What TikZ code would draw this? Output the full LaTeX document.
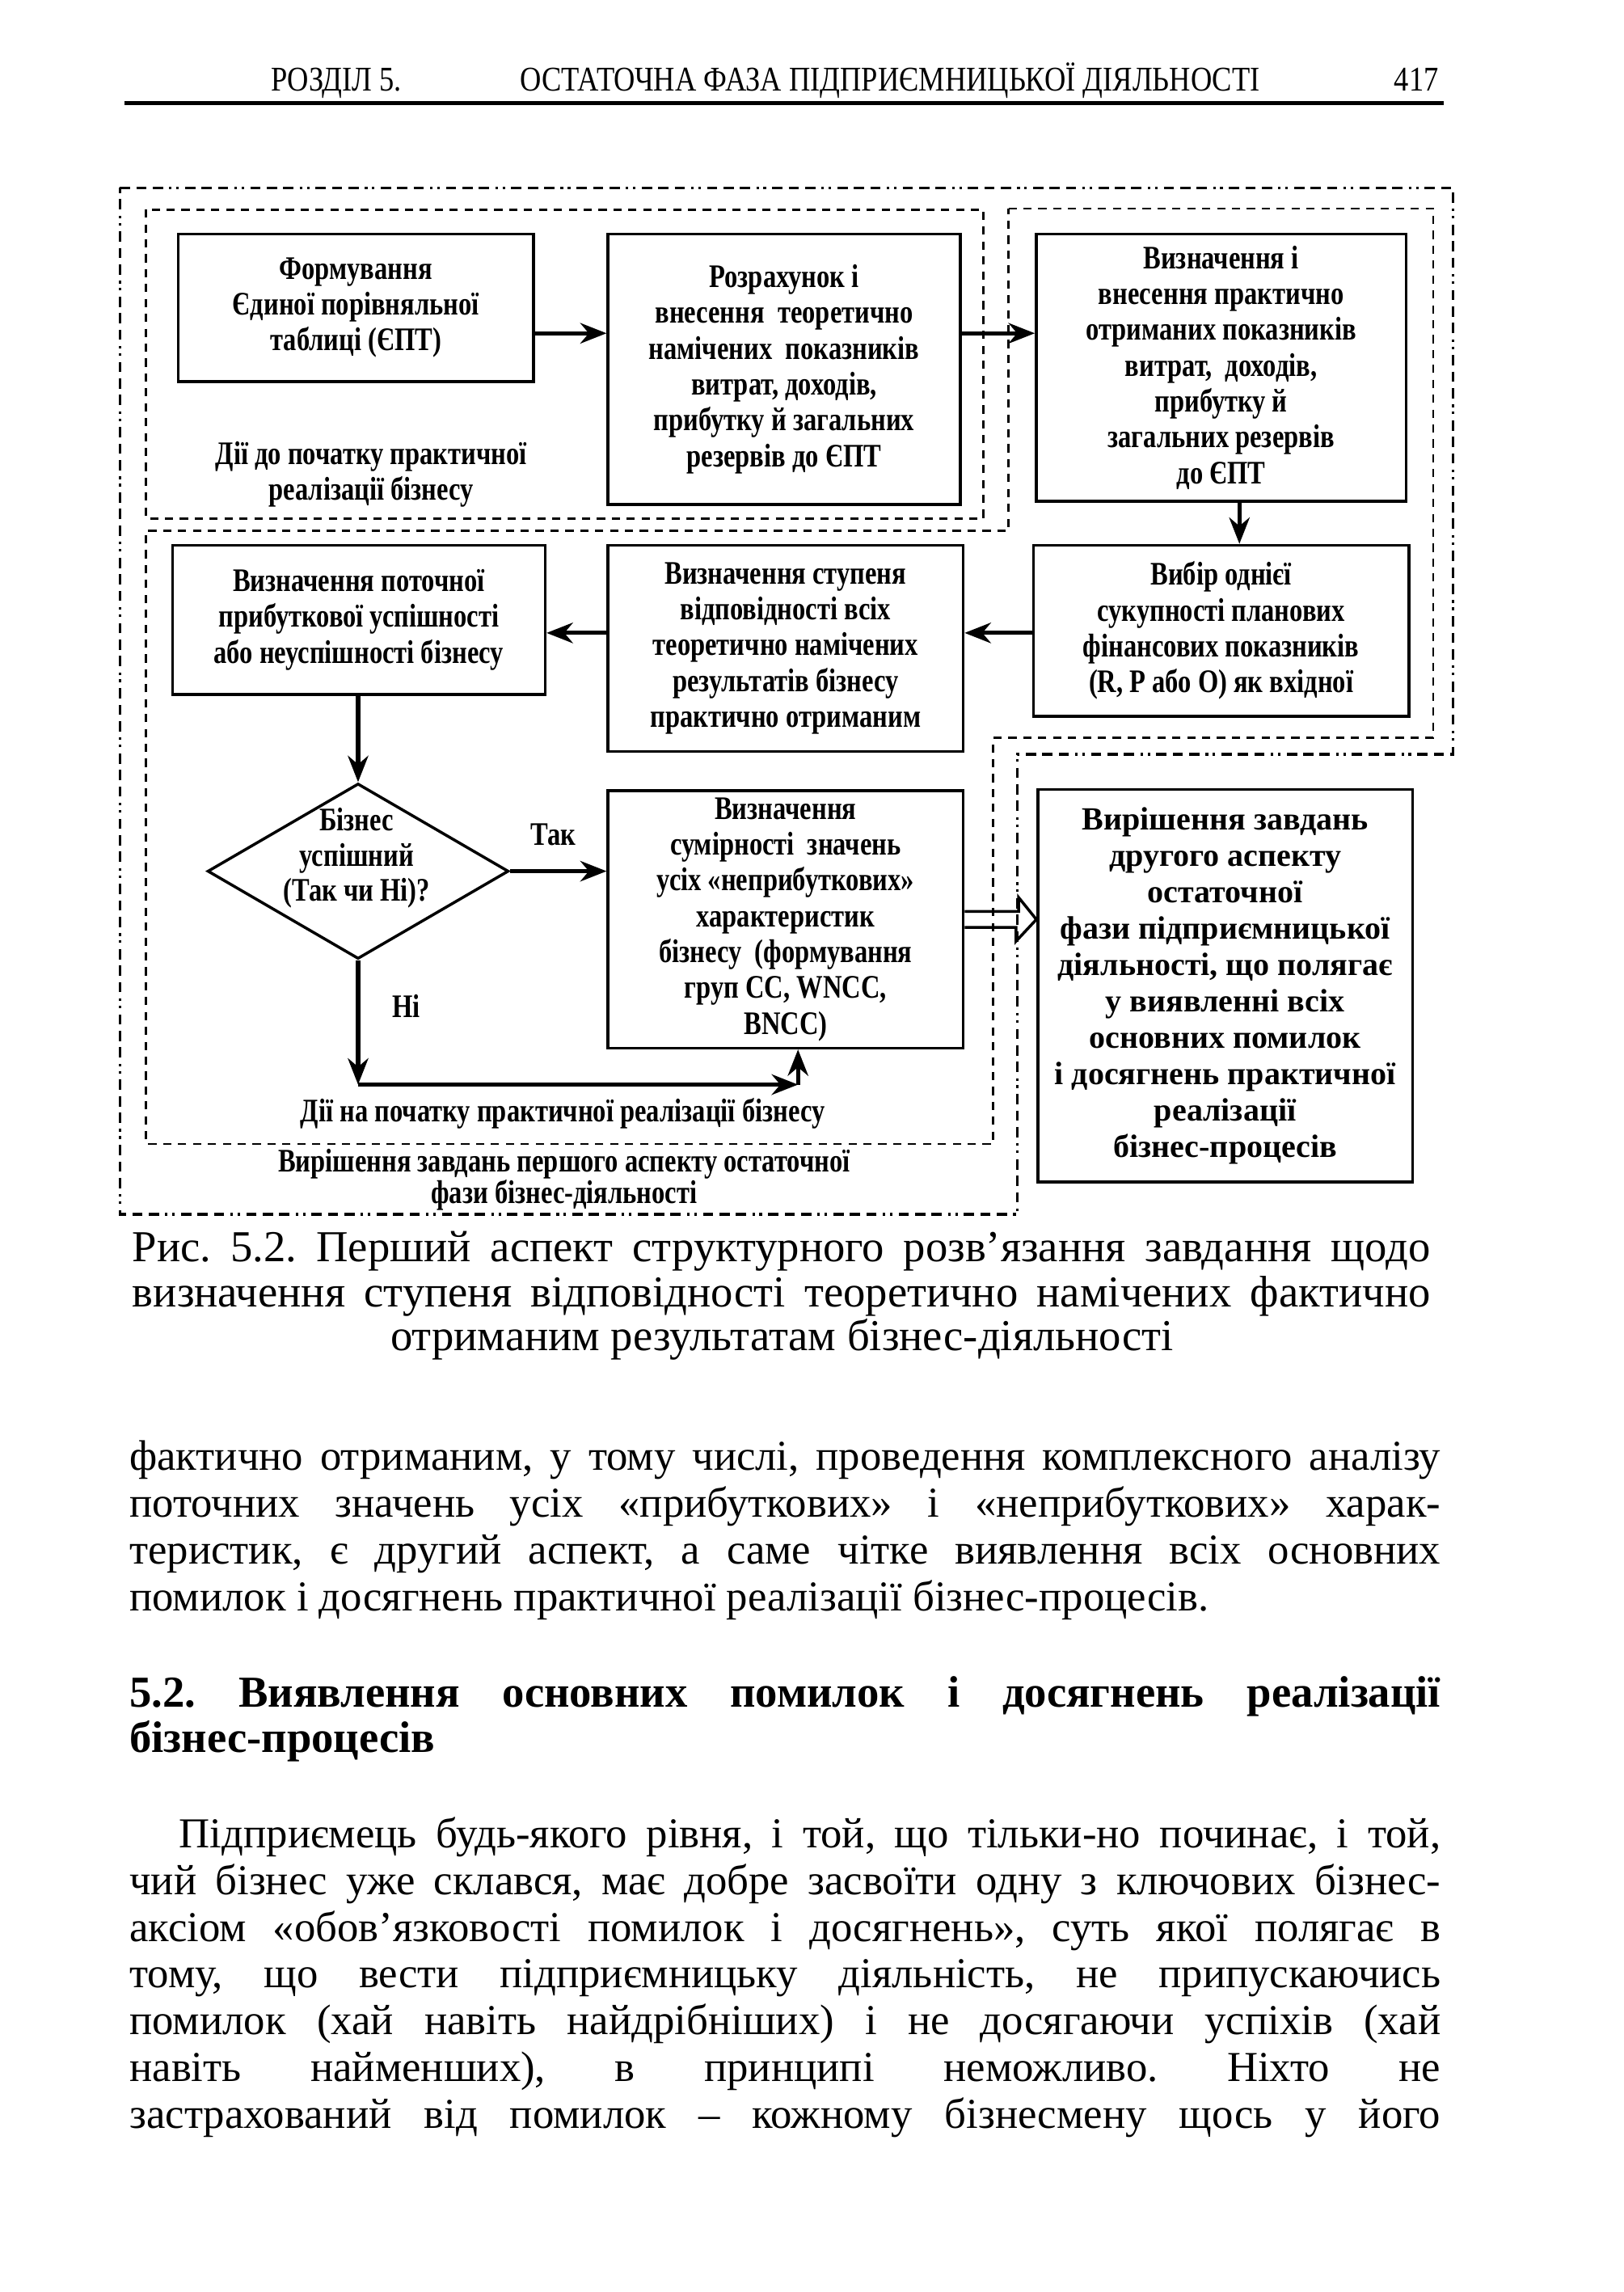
\documentclass[tikz,border=0pt]{standalone}
\usepackage{fontspec}
\setmainfont{Liberation Serif}
\newfontfamily\condfont[FakeStretch=0.8]{Liberation Serif}
\newfontfamily\headfont[FakeStretch=0.85]{Liberation Serif}
\usetikzlibrary{arrows.meta, positioning, calc, shapes.geometric}
\frenchspacing
\newcommand{\jline}[1]{\makebox[8.97cm][s]{#1}}
\tikzset{
    block/.style={draw, line width=0.55pt, align=center, inner sep=1pt,
        font=\condfont\bfseries\fontsize{6.4}{6.97}\selectfont},
    decision/.style={draw, diamond, line width=0.55pt, inner sep=0pt},
    flow/.style={-{Stealth[length=1.8mm, width=1.4mm]}, line width=0.8pt},
    frame/.style={line width=0.45pt, dash pattern=on 1.6pt off 1.3pt},
    outframe/.style={line width=0.5pt, dash pattern=on 2pt off 1.2pt on 2pt off 1.2pt
        on 2pt off 1.2pt on 0.5pt off 0.9pt on 0.5pt off 1.2pt},
    tag/.style={font=\condfont\bfseries\fontsize{6.4}{6.9}\selectfont, align=center,
        inner sep=0pt},
    bodyline/.style={anchor=base west, inner sep=0pt, font=\fontsize{8.3}{10}\selectfont},
    capline/.style={anchor=base west, inner sep=0pt, font=\fontsize{8.6}{10}\selectfont},
}

\begin{document}
\begin{tikzpicture}
    \fill[white] (0,0) rectangle (11.11,-15.68);
    \useasboundingbox (0,0) rectangle (11.11,-15.68);

    % Колонтитул
    \node[anchor=base, inner sep=0pt, font=\headfont\fontsize{6.75}{8}\selectfont] (sec) at (2.30,-0.62) {РОЗДІЛ 5.};
    \node[anchor=base, inner sep=0pt, font=\headfont\fontsize{6.75}{8}\selectfont] (title) at (6.09,-0.62) {ОСТАТОЧНА ФАЗА ПІДПРИЄМНИЦЬКОЇ ДІЯЛЬНОСТІ};
    \node[anchor=base east, inner sep=0pt, font=\headfont\fontsize{6.75}{8}\selectfont] (page) at (9.85,-0.62) {417};
    \draw[line width=0.9pt] (0.85,-0.705) -- (9.88,-0.705);

    % Рамки
    \draw[outframe] (0.82,-1.284) -- (9.94,-1.284) -- (9.94,-5.16) -- (6.96,-5.16)
        -- (6.96,-8.307) -- (0.82,-8.307) -- cycle;
    \draw[frame] (1.00,-1.433) rectangle (6.73,-3.547);
    \draw[frame] (6.90,-1.427) -- (9.806,-1.427) -- (9.806,-5.047) -- (6.796,-5.047)
        -- (6.796,-7.826) -- (1.00,-7.826) -- (1.00,-3.63) -- (6.90,-3.63) -- cycle;

    % Блоки
    \node[block, minimum width=2.43cm, minimum height=1.01cm] (B1) at (2.435,-2.105)
        {Формування\\ Єдиної порівняльної\\ таблиці (ЄПТ)};
    \node[block, minimum width=2.41cm, minimum height=1.85cm] (B2) at (5.365,-2.525)
        {Розрахунок і\\ внесення \ теоретично\\ намічених \ показників\\ витрат, доходів,\\
        прибутку й загальних\\ резервів до ЄПТ};
    \node[block, minimum width=2.53cm, minimum height=1.83cm] (B3) at (8.355,-2.515)
        {Визначення і\\ внесення практично\\ отриманих показників\\ витрат, \ доходів,\\
        прибутку й\\ загальних резервів\\ до ЄПТ};
    \node[block, minimum width=2.57cm, minimum height=1.17cm] (B4) at (8.355,-4.315)
        {Вибір однієї\\ сукупності планових\\ фінансових показників\\ (R, P або O) як вхідної};
    \node[block, minimum width=2.43cm, minimum height=1.41cm] (B5) at (5.375,-4.435)
        {Визначення ступеня\\ відповідності всіх\\ теоретично намічених\\ результатів бізнесу\\
        практично отриманим};
    \node[block, minimum width=2.55cm, minimum height=1.02cm] (B6) at (2.455,-4.24)
        {Визначення поточної\\ прибуткової успішності\\ або неуспішності бізнесу};
    \node[decision, minimum width=2.06cm, minimum height=1.20cm] (D) at (2.45,-5.96) {};
    \node[tag] (Dtxt) at (2.44,-5.87) {Бізнес\\ успішний\\ (Так чи Ні)?};
    \node[block, minimum width=2.43cm, minimum height=1.76cm] (B7) at (5.375,-6.29)
        {Визначення\\ сумірності \ значень\\ усіх «неприбуткових»\\ характеристик\\
        бізнесу \ (формування\\ груп CC, WNCC,\\ BNCC)};
    \node[block, minimum width=2.565cm, minimum height=2.685cm,
        font=\bfseries\fontsize{6.3}{7.08}\selectfont] (B8) at (8.383,-6.743)
        {Вирішення завдань\\ другого аспекту\\ остаточної\\ фази підприємницької\\
        діяльності, що полягає\\ у виявленні всіх\\ основних помилок\\
        і досягнень практичної\\ реалізації\\ бізнес-процесів};

    % Підписи рамок
    \node[tag] (before) at (2.54,-3.245) {Дії до початку практичної\\ реалізації бізнесу};
    \node[tag] (start) at (3.85,-7.62) {Дії на початку практичної реалізації бізнесу};
    \node[tag, font=\condfont\bfseries\fontsize{6.4}{6.2}\selectfont] (first) at (3.86,-8.07)
        {Вирішення завдань першого аспекту остаточної\\ фази бізнес-діяльності};

    % Стрілки
    \coordinate (rowA) at (0,-2.28);
    \coordinate (colA) at (8.48,0);
    \coordinate (rowB) at (0,-4.33);
    \coordinate (turnA) at (2.45,-7.42);
    \coordinate (turnB) at (5.46,-7.42);
    \draw[flow] (B1.east |- rowA) -- (B2.west |- rowA);
    \draw[flow] (B2.east |- rowA) -- (B3.west |- rowA);
    \draw[flow] (B3.south -| colA) -- (B4.north -| colA);
    \draw[flow] (B4.west |- rowB) -- (B5.east |- rowB);
    \draw[flow] (B5.west |- rowB) -- (B6.east |- rowB);
    \draw[flow] (B6.south -| D.north) -- (D.north);
    \draw[flow] (D.east) -- node[tag, above=0.16cm, pos=0.45] (yes) {Так} (B7.west |- D.east);
    \draw[flow] (D.south) -- node[tag, right=0.22cm, pos=0.37] (no) {Ні} (turnA);
    \draw[flow] (turnA) -- (turnB);
    \draw[flow] (turnB) -- (B7.south -| turnB);
    \draw[line width=0.55pt] ($(B7.east)+(0,0.055)$) -- ++(0.37,0) -- ++(0,0.095)
        -- (B8.west |- B7.east) -- ++(-0.14,-0.15) -- ++(0,0.095) -- ($(B7.east)+(0,-0.055)$);

    % Підпис рисунка
    \node[capline] (cap1) at (0.90,-8.63) {\makebox[8.88cm][s]{Рис. 5.2. Перший аспект структурного розв'язання завдання щодо}};
    \node[capline] (cap2) at (0.90,-8.94) {\makebox[8.88cm][s]{визначення ступеня відповідності теоретично намічених фактично}};
    \node[capline, anchor=base] (cap3) at (5.35,-9.24) {отриманим результатам бізнес-діяльності};

    % Текст сторінки
    \node[bodyline] (p1) at (0.88,-10.06) {\jline{фактично отриманим, у тому числі, проведення комплексного аналізу}};
    \node[bodyline] (p2) at (0.88,-10.38) {\jline{поточних значень усіх «прибуткових» і «неприбуткових» харак-}};
    \node[bodyline] (p3) at (0.88,-10.70) {\jline{теристик, є другий аспект, а саме чітке виявлення всіх основних}};
    \node[bodyline] (p4) at (0.88,-11.02) {помилок і досягнень практичної реалізації бізнес-процесів.};

    \node[bodyline, font=\bfseries\fontsize{8.6}{10}\selectfont] (h1) at (0.88,-11.68) {\jline{5.2. Виявлення основних помилок і досягнень реалізації}};
    \node[bodyline, font=\bfseries\fontsize{8.6}{10}\selectfont] (h2) at (0.88,-11.99) {бізнес-процесів};

    \node[bodyline] (q1) at (1.22,-12.64) {\makebox[8.63cm][s]{Підприємець будь-якого рівня, і той, що тільки-но починає, і той,}};
    \node[bodyline] (q2) at (0.88,-12.96) {\jline{чий бізнес уже склався, має добре засвоїти одну з ключових бізнес-}};
    \node[bodyline] (q3) at (0.88,-13.28) {\jline{аксіом «обов'язковості помилок і досягнень», суть якої полягає в}};
    \node[bodyline] (q4) at (0.88,-13.60) {\jline{тому, що вести підприємницьку діяльність, не припускаючись}};
    \node[bodyline] (q5) at (0.88,-13.92) {\jline{помилок (хай навіть найдрібніших) і не досягаючи успіхів (хай}};
    \node[bodyline] (q6) at (0.88,-14.24) {\jline{навіть найменших), в принципі неможливо. Ніхто не}};
    \node[bodyline] (q7) at (0.88,-14.56) {\jline{застрахований від помилок – кожному бізнесмену щось у його}};
\end{tikzpicture}
\end{document}
